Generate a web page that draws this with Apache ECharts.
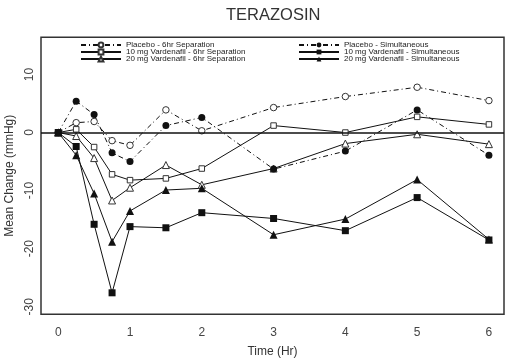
<!DOCTYPE html>
<html>
<head>
<meta charset="utf-8">
<script src="https://cdn.jsdelivr.net/npm/echarts@6/dist/echarts.min.js"></script>
<style>html,body{margin:0;padding:0;background:#fff;}#c{width:516px;height:364px;}</style>
</head>
<body>
<div id="c"></div>
<script>
const times = [0, 0.25, 0.5, 0.75, 1, 1.5, 2, 3, 4, 5, 6];
const placebo6hr = [0, 1.7, 1.9, -1.4, -2.2, 3.9, 0.3, 4.3, 6.2, 7.8, 5.5];
const vard10_6hr = [0, 0.55, -2.5, -7.2, -8.2, -7.9, -6.2, 1.2, 0.0, 2.7, 1.4];
const vard20_6hr = [0, -0.6, -4.4, -11.7, -9.5, -5.6, -9.0, -6.2, -1.9, -0.3, -2.0];
const placeboSim = [0, 5.4, 3.1, -3.5, -5.0, 1.2, 2.6, -6.3, -3.2, 3.9, -3.9];
const vard10_sim = [0, -2.4, -15.8, -27.6, -16.2, -16.4, -13.8, -14.8, -16.9, -11.2, -18.5];
const vard20_sim = [0, -3.9, -10.5, -18.8, -13.5, -9.9, -9.6, -17.6, -14.9, -8.1, -18.4];
const names = [
  'Placebo - 6hr Separation', '10 mg Vardenafil - 6hr Separation', '20 mg Vardenafil - 6hr Separation',
  'Placebo - Simultaneous', '10 mg Vardenafil - Simultaneous', '20 mg Vardenafil - Simultaneous'
];

const FONT = 'Liberation Sans, Arial, sans-serif';
const INK = '#111';
const dashDot = [5, 3, 1, 3];
function pairs(vals) { return times.map((t, i) => [t, vals[i]]); }
function mk(name, vals, symbol, size, dashed, open) {
  return {
    type: 'line', name: name, data: pairs(vals),
    symbol: symbol, symbolSize: size,
    lineStyle: { color: INK, width: 1, type: dashed ? dashDot : 'solid' },
    itemStyle: open
      ? { color: '#fff', borderColor: '#333', borderWidth: 1 }
      : { color: INK, borderColor: INK, borderWidth: 0 },
    emphasis: { disabled: true }
  };
}
const series = [
  mk(names[0], placebo6hr, 'circle', 6.5, true, true),
  mk(names[1], vard10_6hr, 'rect', 5.5, false, true),
  mk(names[2], vard20_6hr, 'triangle', 7, false, true),
  mk(names[3], placeboSim, 'circle', 7, true, false),
  mk(names[4], vard10_sim, 'rect', 7, false, false),
  mk(names[5], vard20_sim, 'triangle', 8, false, false)
];
series[0].markLine = {
  silent: true, symbol: ['none', 'none'], label: { show: false },
  lineStyle: { color: INK, width: 1.5, type: 'solid' },
  data: [{ yAxis: 0 }]
};

const legendCommon = {
  orient: 'vertical', itemWidth: 40, itemHeight: 6, itemGap: -1,
  textStyle: { fontFamily: FONT, fontSize: 8, color: '#222', lineHeight: 7 },
  selectedMode: false, padding: 0
};

const chart = echarts.init(document.getElementById('c'), null, { renderer: 'canvas' });
chart.setOption({
  animation: false,
  backgroundColor: '#fff',
  title: {
    text: 'TERAZOSIN', left: 221, top: 2,
    textStyle: { fontFamily: FONT, fontSize: 16.5, fontWeight: 'normal', color: '#333' }
  },
  legend: [
    Object.assign({}, legendCommon, { left: 80, top: 41, data: names.slice(0, 3) }),
    Object.assign({}, legendCommon, { left: 298, top: 41, data: names.slice(3) })
  ],
  grid: {
    left: 41, right: 12, top: 37.3, bottom: 49.7,
    outerBoundsMode: 'none', containLabel: false,
    show: true, borderColor: '#333', borderWidth: 1.5, backgroundColor: 'transparent'
  },
  xAxis: {
    type: 'value', min: -0.24, max: 6.21,
    name: 'Time (Hr)', nameLocation: 'middle', nameGap: 31,
    nameTextStyle: { fontFamily: FONT, fontSize: 12, color: '#333' },
    axisLine: { show: false }, axisTick: { show: false }, splitLine: { show: false },
    axisLabel: { fontFamily: FONT, fontSize: 12, color: '#444', margin: 12, showMinLabel: false, showMaxLabel: false }
  },
  yAxis: {
    type: 'value', min: -31.3, max: 16.4,
    name: 'Mean Change (mmHg)', nameLocation: 'middle', nameGap: 18,
    nameTextStyle: { fontFamily: FONT, fontSize: 12, color: '#333' },
    axisLine: { show: false }, axisTick: { show: false }, splitLine: { show: false },
    axisLabel: { fontFamily: FONT, fontSize: 12, color: '#444', rotate: 90, margin: 5, showMinLabel: false, showMaxLabel: false }
  },
  series: series
});
</script>
</body>
</html>
